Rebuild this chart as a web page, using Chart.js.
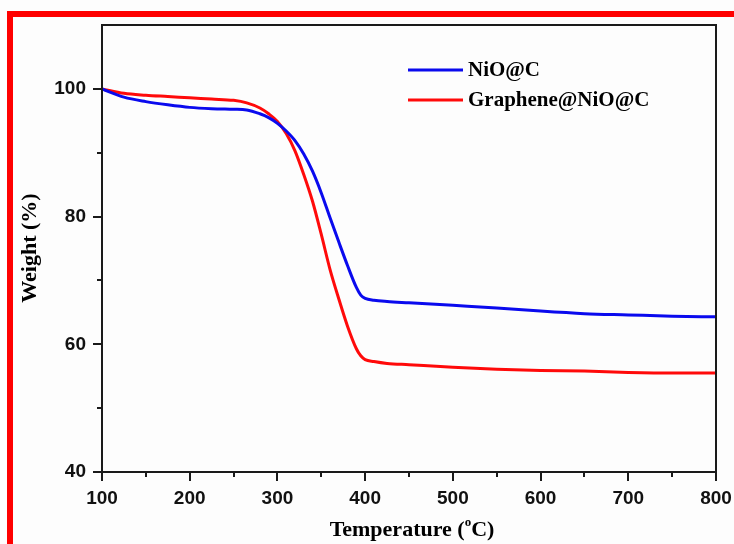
<!DOCTYPE html>
<html>
<head>
<meta charset="utf-8">
<script src="https://cdn.jsdelivr.net/npm/chart.js@4/dist/chart.umd.min.js"></script>
<style>
  html, body { margin: 0; padding: 0; background: #fdfdfd; }
  #wrap { width: 734px; height: 544px; position: relative; }
</style>
</head>
<body>
<div id="wrap"><canvas id="tga"></canvas></div>
<script>
// TGA curves
const temps = [100, 125, 150, 175, 200, 225, 250, 265, 280, 290, 300, 310, 320, 330, 340, 350, 360, 370, 380, 390, 395, 400, 410, 425, 450, 500, 550, 600, 650, 700, 750, 800];
const nioC = [100, 98.7, 98.0, 97.5, 97.1, 96.9, 96.8, 96.7, 96.1, 95.5, 94.6, 93.4, 91.9, 89.8, 87.1, 83.7, 79.8, 76.0, 72.3, 68.9, 67.7, 67.2, 66.9, 66.7, 66.5, 66.1, 65.7, 65.2, 64.8, 64.6, 64.4, 64.3];
const grapheneNioC = [100, 99.3, 99.0, 98.8, 98.6, 98.4, 98.2, 97.8, 97.0, 96.1, 94.9, 93.0, 90.3, 86.6, 82.4, 77.2, 71.7, 67.1, 62.8, 59.3, 58.2, 57.6, 57.3, 57.0, 56.8, 56.4, 56.1, 55.9, 55.8, 55.6, 55.5, 55.5];
const seriesNames = ['NiO@C', 'Graphene@NiO@C'];
const xLabels = [100, 200, 300, 400, 500, 600, 700, 800];
const yLabels = [40, 60, 80, 100];

const tickFont = { family: 'Liberation Sans, Arial, sans-serif', weight: 'bold', size: 19 };
const serif = 'Liberation Serif, "Times New Roman", serif';

const decor = {
  id: 'decor',
  beforeDraw(chart) {
    const ctx = chart.ctx;
    ctx.save();
    ctx.fillStyle = '#ff0000';
    ctx.fillRect(7, 11, 727, 6);
    ctx.fillRect(7, 11, 6, 533);
    ctx.restore();
  },
  afterDraw(chart) {
    const ctx = chart.ctx;
    const a = chart.chartArea;
    const xs = chart.scales.x, ys = chart.scales.y;
    ctx.save();
    ctx.strokeStyle = '#1a1a1a';
    ctx.lineWidth = 2;
    ctx.strokeRect(a.left, a.top, a.right - a.left, a.bottom - a.top);

    // tick marks
    ctx.beginPath();
    for (let v = 100; v <= 800; v += 50) {
      const px = Math.round(xs.getPixelForValue(v));
      const len = xLabels.includes(v) ? 9 : 5;
      ctx.moveTo(px, a.bottom);
      ctx.lineTo(px, a.bottom + len);
    }
    for (let v = 40; v <= 100; v += 10) {
      const py = Math.round(ys.getPixelForValue(v));
      const len = yLabels.includes(v) ? 9 : 5;
      ctx.moveTo(a.left, py);
      ctx.lineTo(a.left - len, py);
    }
    ctx.stroke();

    // legend
    ctx.font = 'bold 21px ' + serif;
    ctx.textBaseline = 'middle';
    ctx.fillStyle = '#000';
    chart.data.datasets.forEach((ds, i) => {
      const y = 70 + i * 30;
      ctx.strokeStyle = ds.borderColor;
      ctx.lineWidth = 3;
      ctx.beginPath();
      ctx.moveTo(408, y);
      ctx.lineTo(463, y);
      ctx.stroke();
      ctx.fillText(ds.label, 468, y + 1);
    });

    // axis titles
    ctx.textBaseline = 'alphabetic';
    const t1 = 'Temperature (', t2 = 'o', t3 = 'C)';
    ctx.font = 'bold 22px ' + serif;
    const w1 = ctx.measureText(t1).width, w3 = ctx.measureText(t3).width;
    ctx.font = 'bold 13px ' + serif;
    const w2 = ctx.measureText(t2).width;
    let x0 = 412 - (w1 + w2 + w3) / 2;
    const by = 536;
    ctx.font = 'bold 22px ' + serif;
    ctx.fillText(t1, x0, by);
    ctx.font = 'bold 13px ' + serif;
    ctx.fillText(t2, x0 + w1, by - 10);
    ctx.font = 'bold 22px ' + serif;
    ctx.fillText(t3, x0 + w1 + w2, by);

    ctx.translate(30, 248);
    ctx.rotate(-Math.PI / 2);
    ctx.textAlign = 'center';
    ctx.textBaseline = 'middle';
    ctx.fillText('Weight (%)', 0, 0);
    ctx.restore();
  }
};

new Chart(document.getElementById('tga'), {
  type: 'line',
  data: {
    datasets: [
      {
        label: seriesNames[0],
        data: temps.map((t, i) => ({ x: t, y: nioC[i] })),
        borderColor: '#0a0aee',
        borderWidth: 3,
        pointRadius: 0,
        cubicInterpolationMode: 'monotone',
        fill: false
      },
      {
        label: seriesNames[1],
        data: temps.map((t, i) => ({ x: t, y: grapheneNioC[i] })),
        borderColor: '#ff0a0a',
        borderWidth: 3,
        pointRadius: 0,
        cubicInterpolationMode: 'monotone',
        fill: false
      }
    ]
  },
  options: {
    responsive: true,
    maintainAspectRatio: false,
    animation: false,
    layout: { padding: { left: 0, top: 25, right: 18, bottom: 0 } },
    plugins: { legend: { display: false }, tooltip: { enabled: false } },
    scales: {
      x: {
        type: 'linear',
        min: 100,
        max: 800,
        grid: { display: false, drawTicks: false },
        border: { display: false },
        ticks: {
          stepSize: 100,
          maxRotation: 0,
          autoSkip: false,
          padding: 15,
          color: '#111',
          font: tickFont,
          callback: v => xLabels.includes(v) ? v : ''
        },
        afterFit: s => { s.height = 72; s.paddingLeft = 0; s.paddingRight = 0; }
      },
      y: {
        min: 40,
        max: 110,
        grid: { display: false, drawTicks: false },
        border: { display: false },
        ticks: {
          stepSize: 10,
          autoSkip: false,
          padding: 16,
          color: '#111',
          font: tickFont,
          callback: v => yLabels.includes(v) ? v : ''
        },
        afterFit: s => { s.width = 102; s.paddingTop = 0; s.paddingBottom = 0; }
      }
    }
  },
  plugins: [decor]
});
</script>
</body>
</html>
